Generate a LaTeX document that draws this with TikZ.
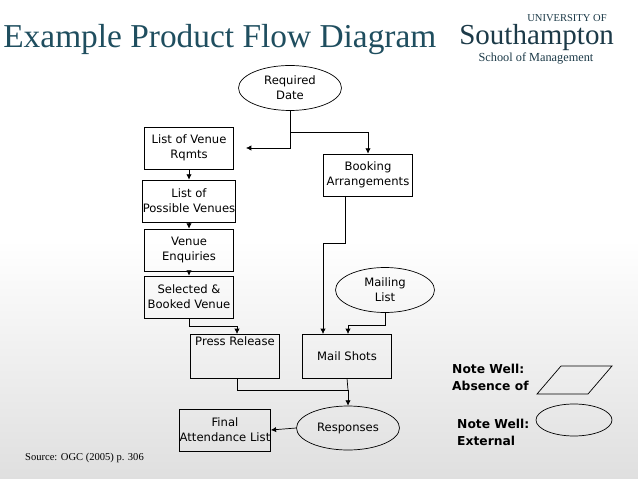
\documentclass[tikz,border=0pt]{standalone}
\usepackage{fontspec}
\setmainfont{Liberation Serif}
\newfontfamily\flowfont{DejaVu Sans}
\usetikzlibrary{shapes.geometric,positioning,arrows.meta}
\definecolor{titleblue}{HTML}{1F4E5F}
\definecolor{logoblue}{HTML}{1C3A48}
\begin{document}
\begin{tikzpicture}[x=0.02cm,y=-0.02cm,thin,
        box/.style={draw, rectangle, minimum width=1.78cm, minimum height=0.84cm,
                        align=center, inner sep=0pt, font=\flowfont\fontsize{6.6}{8.6}\selectfont},
        ext/.style={draw, ellipse, minimum width=2.06cm, minimum height=0.9cm,
                        align=center, inner sep=0pt, font=\flowfont\fontsize{6.6}{8.6}\selectfont},
        arr/.style={-{Latex[length=3pt,width=3pt]}},
        note/.style={font=\flowfont\bfseries\fontsize{7}{9.5}\selectfont, align=left}]
    % background
    \shade[top color=white, bottom color=gray!25, middle color=white] (0,0) rectangle (638,479);
    \useasboundingbox (0,0) rectangle (638,479);
    % headings
    \node[anchor=west, text=titleblue, font=\fontsize{19}{22}\selectfont, inner sep=0pt] (title) at (3,40) {Example Product Flow Diagram};
    \node[anchor=west, text=logoblue, font=\fontsize{16.5}{18}\selectfont, inner sep=0pt] (logo) at (459,38) {Southampton};
    \node[anchor=south east, text=logoblue, font=\fontsize{6}{7}\selectfont, inner sep=0pt] (univ) at (607,22) {UNIVERSITY OF};
    \node[text=logoblue, font=\fontsize{7}{8}\selectfont] (school) at (536,59) {School of Management};
    \node[anchor=west, font=\fontsize{6}{7}\selectfont] (source) at (19,458) {Source: OGC (2005) p. 306};
    % nodes
    \node[ext] (date) at (290,88) {Required\\Date};
    \node[box] (rqmts) at (189,148) {List of Venue\\Rqmts};
    \node[box] (booking) at (368,175) {Booking\\Arrangements};
    \node[box] (possible) at (189,201) {List of\\Possible Venues};
    \node[box] (enquiries) at (189,250) {Venue\\Enquiries};
    \node[box] (selected) at (189,297) {Selected \&\\Booked Venue};
    \node[ext, minimum width=1.98cm] (mailing) at (385,290) {Mailing\\List};
    \node[box, minimum height=0.88cm] (press) at (235,356) {Press Release\\[8pt]};
    \node[box, minimum height=0.88cm] (mail) at (347,356) {Mail Shots};
    \node[ext, minimum height=0.88cm] (responses) at (348,428) {Responses};
    \node[box, minimum width=1.82cm] (final) at (225,430) {Final\\Attendance List};
    % legend
    \node[note, anchor=north west] (absence) at (446,358) {Note Well:\\Absence of};
    \node[note, anchor=north west] (external) at (451,413) {Note Well:\\External};
    \draw (537,394) -- (588,394) -- (612,366) -- (561,366) -- cycle;
    \node[draw, ellipse, minimum width=1.52cm, minimum height=0.64cm] (extkey) at (574,420) {};
    % connectors
    \coordinate (dateend) at (246,148);
    \draw[arr] (date.south) -- (290,148) -- (dateend);
    \draw[arr] (290,132) -| (booking.north);
    \draw[arr] (rqmts) -- (possible);
    \draw[arr] (possible) -- (enquiries);
    \draw[arr] (enquiries) -- (selected);
    \draw[arr] (selected.south) |- (237,326) -- (237,334);
    \draw[arr] (345,196) |- (323,243) -- (323,334);
    \draw[arr] (mailing.south) |- (348,325) -- (348,334);
    \draw[arr] (237,378) |- (348,390) -- (responses.north);
    \draw (mail.south) -- (348,390);
    \draw[arr] (responses.west) -- (final.east);
\end{tikzpicture}
\end{document}
